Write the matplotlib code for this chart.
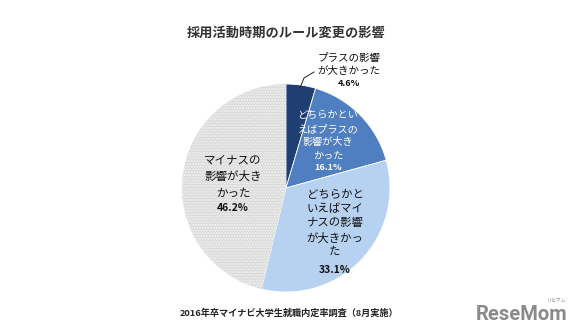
import matplotlib
matplotlib.use("Agg")
import matplotlib.pyplot as plt

plt.rcParams['font.family'] = ['Noto Sans CJK JP', 'DejaVu Sans']

title = "採用活動時期のルール変更の影響"
source = "2016年卒マイナビ大学生就職内定率調査（8月実施）"
categories = [
    "プラスの影響\nが大きかった",
    "どちらかとい\nえばプラスの\n影響が大き\nかった",
    "どちらかと\nいえばマイ\nナスの影響\nが大きかっ\nた",
    "マイナスの\n影響が大き\nかった",
]
values = [4.6, 16.1, 33.1, 46.2]
colors = ["#1f3f72", "#4f7fc0", "#b7d2f1", "#dadada"]

W, H = 585, 336
fig = plt.figure(figsize=(W / 100, H / 100), dpi=100)
ax = fig.add_axes([0, 0, 1, 1])
ax.set_xlim(0, W)
ax.set_ylim(0, H)
ax.set_aspect('equal')
ax.axis('off')

cx, cy, r = 286, H - 188, 104
wedges, _ = ax.pie(values, colors=colors, startangle=90, counterclock=False,
                   center=(cx, cy), radius=r,
                   wedgeprops=dict(edgecolor="white", linewidth=0.6))
ax.set_xlim(0, W)
ax.set_ylim(0, H)

# dotted texture on the largest slice
g = wedges[3]
g.set_edgecolor("#f4f4f4")
g.set_hatch("......")
g.set_linewidth(0)

ax.text(286, H - 33, title, ha='center', va='center', fontsize=9.5,
        fontweight='bold', color='#333333')
ax.text(289, H - 313, source, ha='center', va='center', fontsize=6.6,
        fontweight='bold', color='#222222')

# slice labels
lab_cfg = [
    dict(x=349, y=64.5, pct_y=84, color='#111111', fs=7.6, pfs=6.5, ls=1.45),
    dict(x=328, y=135.5, pct_y=168, color='white', fs=7.3, pfs=6.5, ls=1.45),
    dict(x=335, y=223.5, pct_y=270, color='#111111', fs=8.2, pfs=7.5, ls=1.45),
    dict(x=233, y=176.5, pct_y=208, color='#111111', fs=8.3, pfs=7.5, ls=1.4),
]
for cat, v, c in zip(categories, values, lab_cfg):
    ax.text(c['x'], H - c['y'], cat, ha='center', va='center', fontsize=c['fs'],
            color=c['color'], linespacing=c['ls'])
    ax.text(c['x'], H - c['pct_y'], f"{v}%", ha='center', va='center',
            fontsize=c['pfs'], fontweight='bold', color=c['color'])

# leader line for the smallest slice
ax.plot([314, 304, 300], [H - 72, H - 78, H - 88], color='#222222', lw=0.7)

# logo
ax.text(522, H - 314, "ReseMom", ha='center', va='center', fontsize=14.5,
        fontweight='bold', color='#8a8a8a', family=['Roboto', 'DejaVu Sans'])
ax.text(557, H - 300, "リセマム", ha='center', va='center', fontsize=3.5,
        color='#8a8a8a')

fig.savefig("out.png", dpi=100)
